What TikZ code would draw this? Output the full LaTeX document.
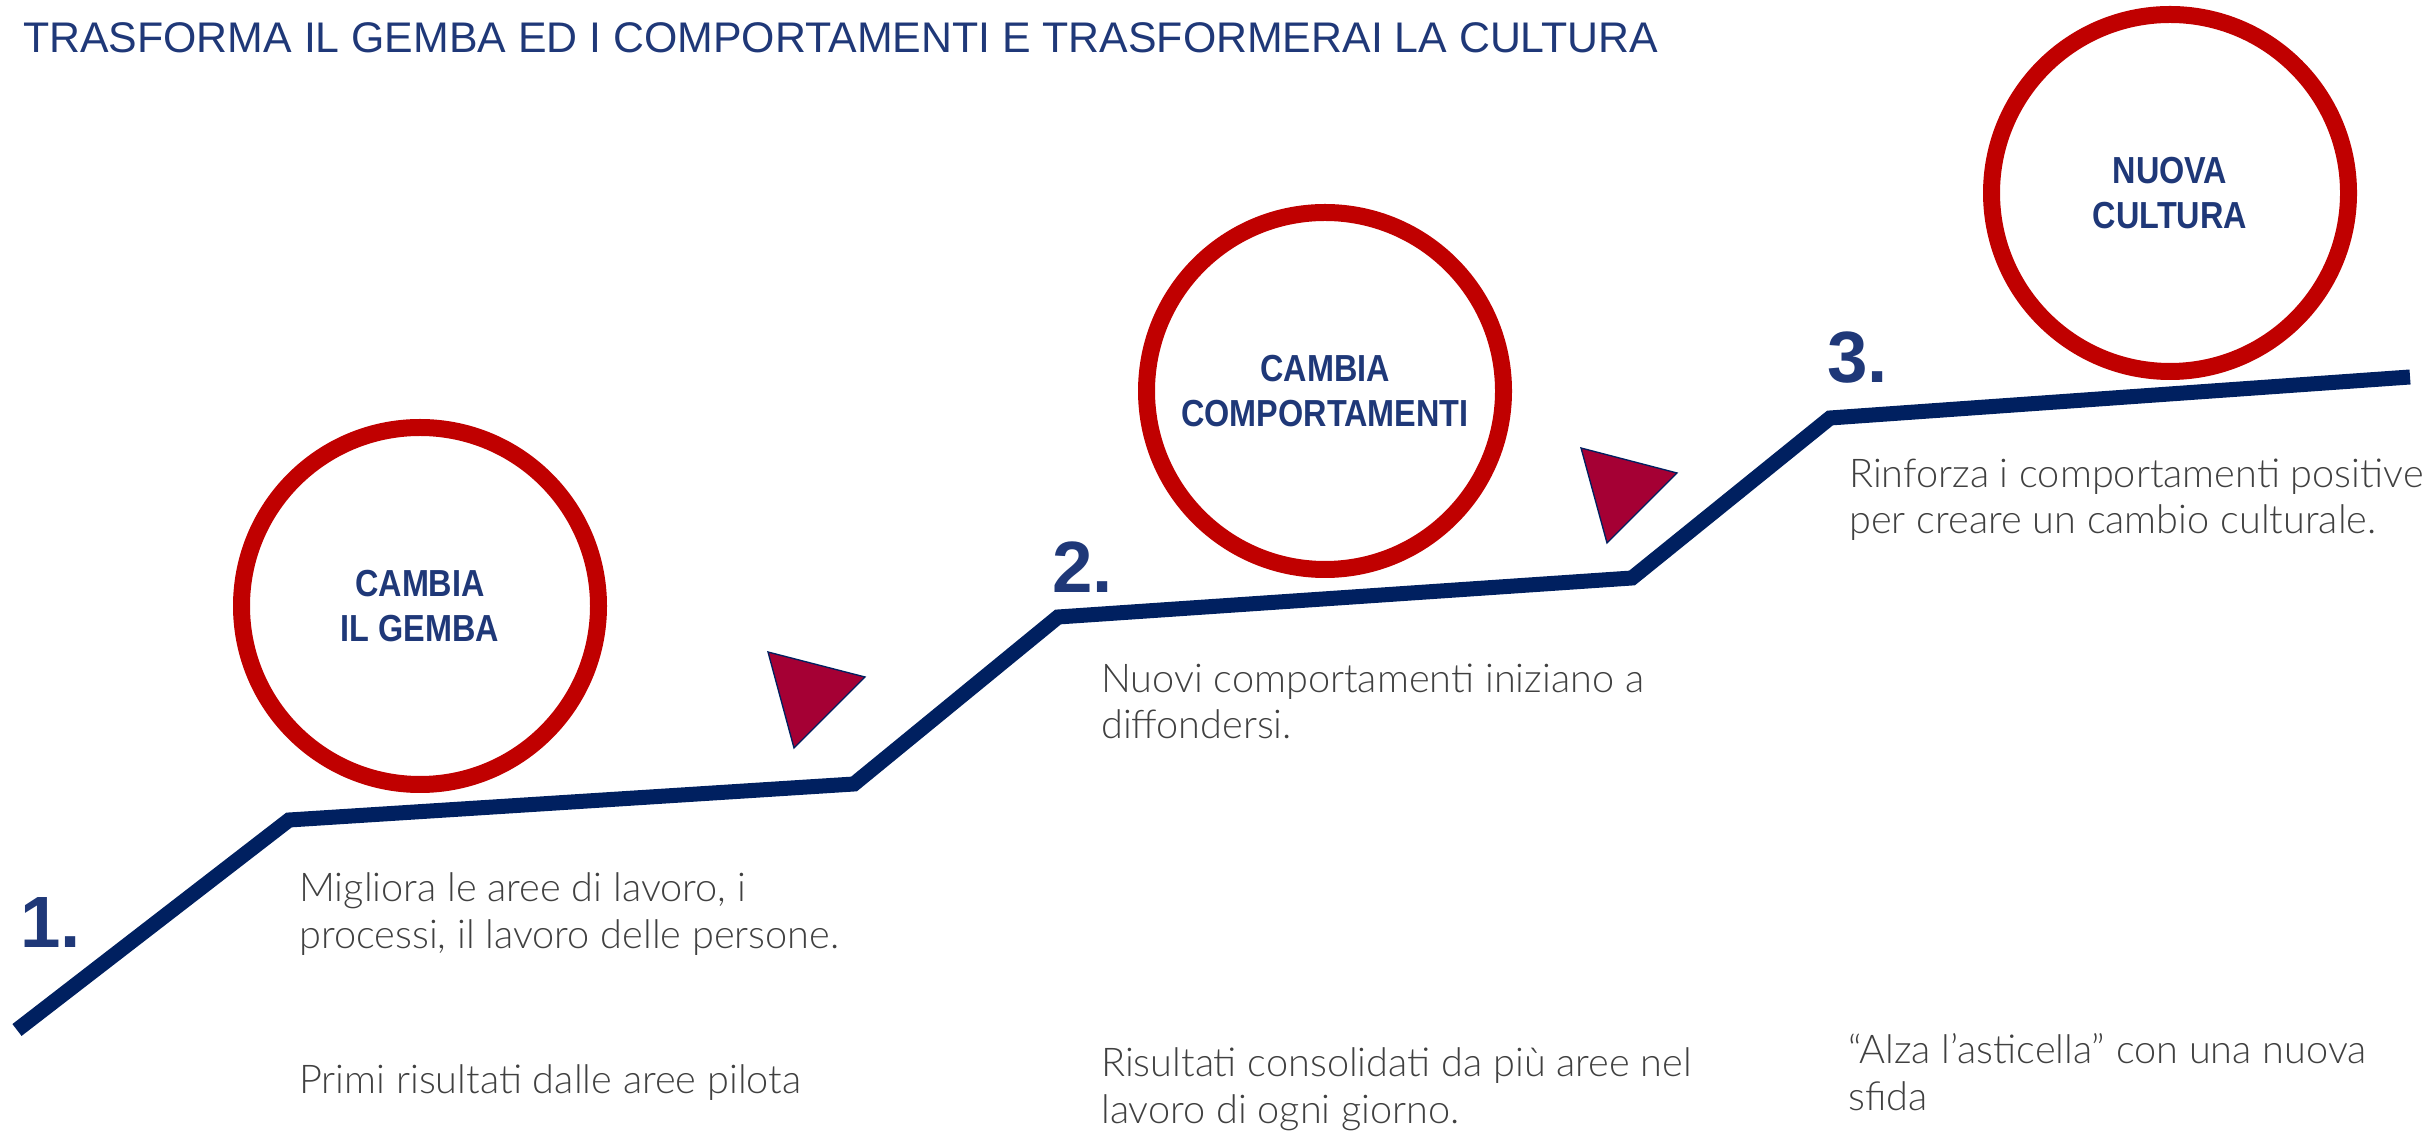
\documentclass[tikz,border=0pt]{standalone}
\usepackage{fontspec}
\setmainfont{Liberation Sans}
\newfontfamily\bodyfont{Lato Light}
\newfontfamily\labelfont{Liberation Sans}[FakeStretch=0.86]

\definecolor{navyline}{RGB}{0,32,96}
\definecolor{ringred}{RGB}{192,0,0}
\definecolor{labelblue}{RGB}{31,56,120}
\definecolor{bodygray}{RGB}{64,64,64}
\definecolor{pointerred}{RGB}{165,0,52}

\tikzset{every picture/.style={line width=0.75pt}}
\tikzset{
  ring/.style={circle, draw=ringred, line width=5.1pt, minimum size=107.1pt, inner sep=0pt,
    align=center, text=labelblue, font=\labelfont\bfseries\fontsize{11.3}{13.4}\selectfont},
  stepnum/.style={anchor=base west, inner sep=0pt, text=labelblue,
    font=\bfseries\fontsize{21.8}{26}\selectfont},
  bodytext/.style={anchor=base west, inner sep=0pt, align=left, text=bodygray,
    font=\bodyfont\fontsize{11.9}{14}\selectfont},
  pointer/.style={draw=navyline, line width=0.4pt, fill=pointerred, line join=miter},
}

\begin{document}
\begin{tikzpicture}[x=0.3pt,y=0.3pt,yscale=-1,xscale=1]
%set diagram left start at 0, and has height of 1132
\path [use as bounding box] (0,0) rectangle (2430,1132);

% Title
\node (title) [anchor=base west, inner sep=0pt, text=labelblue, font=\fontsize{12.85}{15}\selectfont] at (22,53)
  {TRASFORMA IL GEMBA ED I COMPORTAMENTI E TRASFORMERAI LA CULTURA};

%Shape: Steps
\coordinate (p0) at (17,1030);
\coordinate (p1) at (289,820);
\coordinate (p2) at (854,784);
\coordinate (p3) at (1058,617);
\coordinate (p4) at (1632,578);
\coordinate (p5) at (1830,418);
\coordinate (p6) at (2410,377);
\draw [color=navyline, line width=4.5pt] (p0) -- (p1) -- (p2) -- (p3) -- (p4) -- (p5) -- (p6);

%Shape: Circles
\node (gemba) [ring] at (420,606) {CAMBIA\\IL GEMBA};
\node (comport) [ring] at (1325,391) {CAMBIA\\COMPORTAMENTI};
\node (cultura) [ring] at (2170,193) {NUOVA\\CULTURA};

%Shape: Triangles
\draw [pointer] (768,652) -- (865,677) -- (794,748) -- cycle;
\draw [pointer] (1581,448) -- (1677,473) -- (1607,543) -- cycle;

% Step numbers
\node (num1) [stepnum] at (19,947) {1.};
\node (num2) [stepnum] at (1051,593) {2.};
\node (num3) [stepnum] at (1826,383) {3.};

% Text Node (anchor is the baseline of the last line)
\node (txt1a) [bodytext] at (298,948) {Migliora le aree di lavoro, i\\processi, il lavoro delle persone.};
\node (txt1b) [bodytext] at (298,1093) {Primi risultati dalle aree pilota};
% Text Node
\node (txt2a) [bodytext] at (1100,739) {Nuovi comportamenti iniziano a\\diffondersi.};
\node (txt2b) [bodytext] at (1100,1123) {Risultati consolidati da più aree nel\\lavoro di ogni giorno.};
% Text Node
\node (txt3a) [bodytext] at (1848,534) {Rinforza i comportamenti positive\\per creare un cambio culturale.};
\node (txt3b) [bodytext] at (1847,1110) {“Alza l’asticella” con una nuova\\sfida};

\end{tikzpicture}
\end{document}
